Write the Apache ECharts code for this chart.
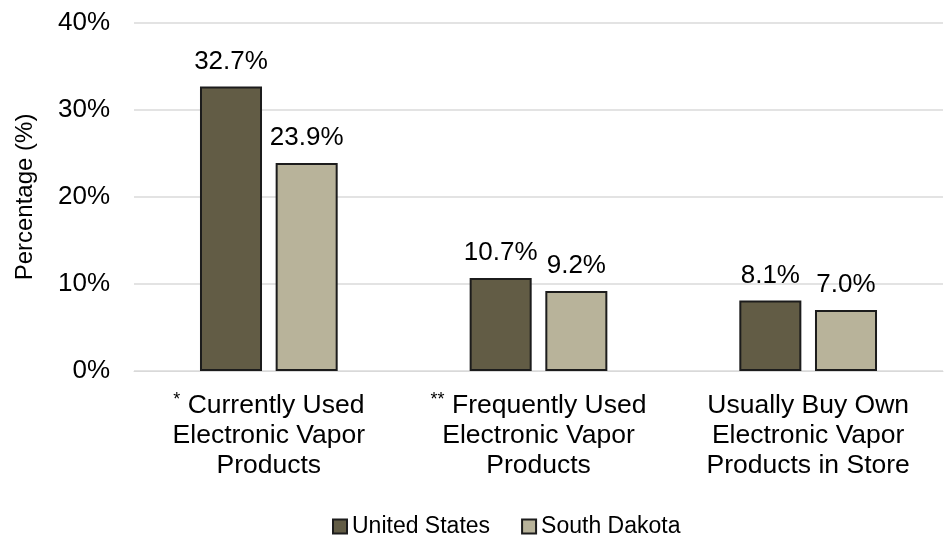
<!DOCTYPE html>
<html>
<head>
<meta charset="utf-8">
<script src="https://cdn.jsdelivr.net/npm/echarts@6/dist/echarts.min.js"></script>
<style>
  html, body { margin: 0; padding: 0; background: #fff; }
  #chart { width: 944px; height: 535px; }
</style>
</head>
<body>
<div id="chart"></div>
<script>
// Category labels (rich-text markup adds the footnote markers)
const categories = [
  '{sup|*} Currently Used\nElectronic Vapor\nProducts',
  '{sup|**} Frequently Used\nElectronic Vapor\nProducts',
  'Usually Buy Own\nElectronic Vapor\nProducts in Store'
];
const seriesNames = ['United States', 'South Dakota'];
const unitedStates = [32.7, 10.7, 8.1];
const southDakota = [23.9, 9.2, 7.0];
const seriesColors = ['#625c45', '#b8b39a'];

const font = 'Arial, "Liberation Sans", sans-serif';

const chart = echarts.init(document.getElementById('chart'));

function barSeries(name, values, color) {
  return {
    name: name,
    type: 'bar',
    data: values,
    barWidth: '23%',
    barGap: '22%',
    itemStyle: { color: color, borderColor: '#1c1c1c', borderWidth: 2 },
    label: {
      show: true,
      position: 'top',
      distance: 12,
      color: '#000',
      fontFamily: font,
      fontSize: 26,
      formatter: p => p.value.toFixed(1) + '%'
    }
  };
}

chart.setOption({
  animation: false,
  backgroundColor: '#fff',
  textStyle: { fontFamily: font },
  grid: { left: 134, right: 1, top: 23, bottom: 164, containLabel: false },
  legend: {
    top: 510,
    left: 327,
    itemWidth: 14,
    itemHeight: 14,
    itemGap: 31,
    icon: 'rect',
    textStyle: { fontFamily: font, fontSize: 23, color: '#000' },
    data: seriesNames
  },
  xAxis: {
    type: 'category',
    data: categories,
    axisLine: { show: true, lineStyle: { color: '#d9d9d9', width: 1 } },
    axisTick: { show: false },
    axisLabel: {
      margin: 20,
      interval: 0,
      color: '#000',
      fontFamily: font,
      fontSize: 26.5,
      lineHeight: 30,
      rich: {
        sup: { fontSize: 18, verticalAlign: 'top', padding: [0, 0, 10, 0], color: '#000' }
      }
    }
  },
  yAxis: {
    type: 'value',
    min: 0,
    max: 40,
    interval: 10,
    name: 'Percentage (%)',
    nameLocation: 'middle',
    nameGap: 97,
    nameTextStyle: { fontFamily: font, fontSize: 24, color: '#000' },
    axisLine: { show: false },
    axisTick: { show: false },
    axisLabel: {
      margin: 24,
      color: '#000',
      fontFamily: font,
      fontSize: 26,
      formatter: v => v + '%'
    },
    splitLine: { lineStyle: { color: '#e3e3e3', width: 2 } }
  },
  series: [
    barSeries(seriesNames[0], unitedStates, seriesColors[0]),
    barSeries(seriesNames[1], southDakota, seriesColors[1])
  ]
});
</script>
</body>
</html>
